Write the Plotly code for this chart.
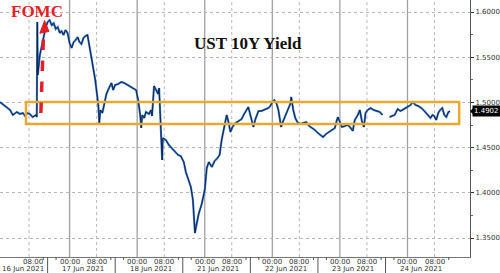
import plotly.graph_objects as go

# ---------------- data ----------------
# trading-clock hours since 16 Jun 2021 00:00 (each session day = 20 units)
hours = [
    -0.6, 0.9, 2.4, 3.2, 4.4, 5.3, 6.2, 6.8, 7.4, 8.2, 9.1, 10.0, 10.3, 10.45, 10.6,
    11.2, 11.8, 12.4, 12.9, 13.5, 14.1, 14.7, 15.3, 15.9, 16.5, 17.1, 17.6, 18.2, 18.8,
    19.4, 20.0, 20.6, 21.2, 21.8, 22.4, 22.9, 23.5, 24.1, 24.7, 25.3, 25.9, 26.5, 27.1,
    27.6, 28.2, 28.5, 28.8, 29.1, 29.7, 30.3, 30.9, 31.8, 32.4, 32.9, 33.5, 34.4, 35.3,
    36.2, 37.1, 37.9, 38.8, 39.7, 40.3, 40.9, 41.2, 41.5, 42.1, 42.6, 43.5, 44.1, 44.4,
    45.0, 45.6, 46.2, 46.5, 46.8, 47.1, 47.4, 47.6, 48.5, 49.4, 50.3, 51.2, 52.1, 52.9,
    53.8, 54.4, 55.3, 55.9, 56.5, 56.8, 57.1, 57.6, 58.2, 59.1, 60.0, 60.6, 61.2, 62.1,
    62.9, 63.8, 64.4, 65.0, 65.6, 66.2, 66.5, 67.1, 67.6, 68.2, 69.1, 70.0, 70.9, 71.5,
    72.1, 72.9, 73.5, 74.1, 74.4, 75.0, 75.9, 76.8, 77.9, 78.8, 79.4, 80.0, 80.6, 81.2,
    81.8, 82.4, 82.6, 83.2, 83.8, 84.7, 85.3, 85.6, 86.2, 86.8, 87.4, 88.2, 89.1, 90.0,
    90.9, 91.8, 92.6, 93.5, 94.4, 95.0, 95.9, 96.8, 97.6, 98.5, 99.1, 99.4, 100.0, 100.6,
    101.5, 102.4, 103.2, 103.8, 104.4, 105.3, 105.9, 106.5, 107.1, 107.6, 108.2, 109.1,
    110.0, 110.9, 111.8, 112.6, None, 114.7, 115.6, 116.2, 117.1, 117.9, 118.5, 119.4,
    120.0, 120.9, 121.5, 122.4, 123.2, 124.1, 125.0, 125.9, 126.8, 127.4, 127.9, 128.5,
    129.1, 129.7, 130.3, 130.9, 131.5, 132.1, 132.6,
]
yields = [
    1.5004, 1.4960, 1.4916, 1.4861, 1.4894, 1.4872, 1.4883, 1.4850, 1.4883, 1.4872, 1.4838,
    1.4861, 1.4838, 1.5889, 1.5303, 1.5524, 1.5635, 1.5712, 1.5823, 1.5889, 1.5911, 1.5856,
    1.5878, 1.5812, 1.5834, 1.5768, 1.5790, 1.5746, 1.5801, 1.5768, 1.5657, 1.5602, 1.5668,
    1.5690, 1.5724, 1.5668, 1.5646, 1.5712, 1.5735, 1.5746, 1.5602, 1.5469, 1.5358, 1.5248,
    1.5082, 1.4971, 1.4772, 1.4916, 1.4883, 1.4993, 1.5093, 1.5171, 1.5215, 1.5137, 1.5193,
    1.5204, 1.5226, 1.5215, 1.5193, 1.5182, 1.5159, 1.5137, 1.5026, 1.4861, 1.4717, 1.4861,
    1.4827, 1.4894, 1.4872, 1.4916, 1.4850, 1.5182, 1.5137, 1.5093, 1.5159, 1.4938, 1.4717,
    1.4363, 1.4606, 1.4584, 1.4529, 1.4496, 1.4452, 1.4419, 1.4407, 1.4341, 1.4230, 1.4142,
    1.4064, 1.3921, 1.3699, 1.3555, 1.3655, 1.3765, 1.3876, 1.4031, 1.4274, 1.4341, 1.4285,
    1.4352, 1.4385, 1.4419, 1.4584, 1.4695, 1.4827, 1.4861, 1.4772, 1.4673, 1.4728, 1.4772,
    1.4794, 1.4816, 1.4861, 1.4905, 1.4949, 1.4861, 1.4750, 1.4728, 1.4816, 1.4905, 1.4905,
    1.4927, 1.4938, 1.4960, 1.5004, 1.5026, 1.4993, 1.4916, 1.4805, 1.4728, 1.4794, 1.4850,
    1.4916, 1.4982, 1.5060, 1.4916, 1.4827, 1.4783, 1.4761, 1.4772, 1.4783, 1.4739, 1.4717,
    1.4695, 1.4662, 1.4628, 1.4617, 1.4651, 1.4673, 1.4695, 1.4717, 1.4805, 1.4838, 1.4783,
    1.4728, 1.4739, 1.4750, 1.4717, 1.4684, 1.4805, 1.4861, 1.4916, 1.4794, 1.4728, 1.4883,
    1.4916, 1.4938, 1.4916, 1.4905, 1.4894, 1.4861, None, 1.4838, 1.4850, 1.4861, 1.4927,
    1.4905, 1.4916, 1.4938, 1.4949, 1.4971, 1.5004, 1.4971, 1.4960, 1.4938, 1.4905, 1.4861,
    1.4827, 1.4861, 1.4850, 1.4805, 1.4883, 1.4916, 1.4938, 1.4861, 1.4838, 1.4894, 1.4902,
]

day_labels = ["16 Jun 2021", "17 Jun 2021", "18 Jun 2021", "21 Jun 2021",
              "22 Jun 2021", "23 Jun 2021", "24 Jun 2021"]
HOURS_PER_DAY = 20
y_ticks = [1.35, 1.40, 1.45, 1.50, 1.55, 1.60]
last_value = 1.4902
box_low, box_high = 1.4761, 1.5004      # highlighted range
box_start, box_end = 7.1, 135.3
fomc_hour = 11.6
title_text = "UST 10Y Yield"

X_RANGE = [-0.59, 138.5]
Y_RANGE = [1.3290, 1.6133]
PLOT_H = 257

LINE_DARK = "#0c1c38"
LINE_BLUE = "#3a7ad0"
GOLD = "#e8aa2e"
RED = "#e3202a"
AX_FONT = dict(family="DejaVu Sans", size=7, color="#333333")

fig = go.Figure()
fig.add_trace(go.Scatter(x=hours, y=yields, mode="lines", connectgaps=False,
                         line=dict(color=LINE_BLUE, width=2.1), hoverinfo="skip",
                         showlegend=False))
fig.add_trace(go.Scatter(x=hours, y=yields, mode="lines", connectgaps=False,
                         line=dict(color=LINE_DARK, width=0.9), showlegend=False))

shapes = []
annotations = []


def tick_label(x, text, px_below):
    annotations.append(dict(x=x, y=-px_below / PLOT_H, xref="x", yref="paper", text=text,
                            showarrow=False, yanchor="middle", xanchor="center",
                            font=AX_FONT))


for d, lab in enumerate(day_labels):
    midnight = d * HOURS_PER_DAY
    morning = midnight + 8
    if d > 0:
        shapes.append(dict(type="line", xref="x", yref="paper", x0=midnight, x1=midnight,
                           y0=0, y1=1, line=dict(color="#a0a0a0", width=1.3), layer="below"))
        tick_label(midnight, "00:00", 4.5)
        sep = midnight - 6.5
        shapes.append(dict(type="line", xref="x", yref="paper", x0=sep, x1=sep,
                           y0=0, y1=-16 / PLOT_H, line=dict(color="#555555", width=1)))
    shapes.append(dict(type="line", xref="x", yref="paper", x0=morning, x1=morning,
                       y0=0, y1=1, line=dict(color="#b8b8b8", width=1, dash="dot"),
                       layer="below"))
    tick_label(morning + (1.2 if d == 0 else 0), "08:00", 4.5)
    for m in (midnight - 4.0, morning + 4.2):
        if m > X_RANGE[0]:
            shapes.append(dict(type="line", xref="x", yref="paper", x0=m, x1=m,
                               y0=0, y1=-3 / PLOT_H, line=dict(color="#555555", width=1)))
    cx = midnight + 4 if d > 0 else 6.2
    tick_label(cx, lab, 12)

# highlighted range box
shapes.append(dict(type="rect", xref="x", yref="y", x0=box_start, x1=box_end,
                   y0=box_low, y1=box_high, line=dict(color=GOLD, width=2.5),
                   fillcolor="rgba(0,0,0,0)"))

# FOMC dashed arrow
shapes.append(dict(type="line", xref="x", yref="y", x0=fomc_hour - 0.1, y0=1.4883,
                   x1=fomc_hour + 0.7, y1=1.5770, line=dict(color=RED, width=3.5, dash="dash")))
shapes.append(dict(type="path", xref="x", yref="y",
                   path=f"M {fomc_hour - 0.4},1.5765 L {fomc_hour + 1.0},1.5905 "
                        f"L {fomc_hour + 2.3},1.5785 Z",
                   fillcolor=RED, line=dict(color=RED, width=1)))

annotations.append(dict(x=fomc_hour - 1.3, y=1.6005, xref="x", yref="y", text="<b>FOMC</b>",
                        showarrow=False, xanchor="center", yanchor="middle",
                        font=dict(family="Liberation Serif", size=17, color=RED)))
annotations.append(dict(x=72.9, y=1.5657, xref="x", yref="y", text=f"<b>{title_text}</b>",
                        showarrow=False, xanchor="center", yanchor="middle",
                        font=dict(family="Liberation Serif", size=17, color="#111111")))

# last value tag
annotations.append(dict(x=1.0, y=last_value, xref="paper", yref="y", text=f"{last_value:.4f}",
                        showarrow=False, xanchor="left", yanchor="middle", xshift=2,
                        bgcolor="#000000", borderpad=1,
                        font=dict(family="DejaVu Sans", size=7, color="#ffffff")))
shapes.append(dict(type="path", xref="paper", yref="y",
                   path=f"M 1.0,{last_value} L {1.0 + 4 / 473},{last_value + 0.0045} "
                        f"L {1.0 + 4 / 473},{last_value - 0.0045} Z",
                   fillcolor="#000000", line=dict(width=0)))

fig.update_layout(
    width=500, height=273,
    margin=dict(l=0, r=27, t=0, b=16),
    paper_bgcolor="#ffffff", plot_bgcolor="#ffffff",
    shapes=shapes, annotations=annotations,
    xaxis=dict(range=X_RANGE, showgrid=False, zeroline=False, showticklabels=False,
               ticks="", showline=True, linecolor="#777777", linewidth=1),
    yaxis=dict(range=Y_RANGE, side="right", tickvals=y_ticks, tickformat=".4f",
               showgrid=True, gridcolor="#b5b5b5", griddash="dot", gridwidth=1,
               zeroline=False, ticks="outside", ticklen=3, tickcolor="#333333",
               minor=dict(dtick=0.025, ticks="outside", ticklen=2, tickcolor="#666666",
                          showgrid=False),
               showline=True, linecolor="#555555", linewidth=1,
               tickfont=AX_FONT),
)

fig.write_html("out.html")
